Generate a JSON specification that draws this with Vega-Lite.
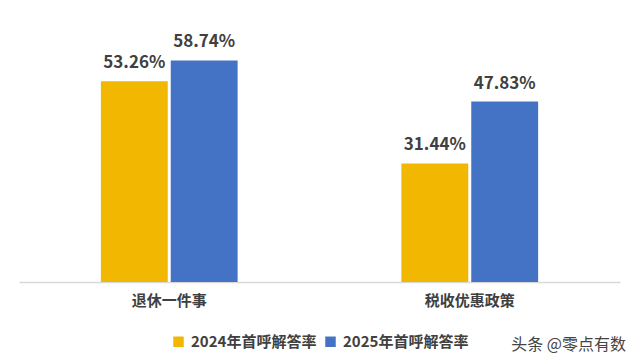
{
  "$schema": "https://vega.github.io/schema/vega-lite/v6.json",
  "width": 601,
  "height": 264,
  "autosize": {"type": "none"},
  "padding": {"left": 19, "top": 18, "right": 20, "bottom": 82},
  "background": "white",
  "config": {
    "font": "Noto Sans CJK SC",
    "view": {"stroke": null}
  },
  "title": {
    "text": "头条 @零点有数",
    "orient": "bottom",
    "anchor": "end",
    "fontSize": 16,
    "fontWeight": "normal",
    "color": "#444444",
    "offset": 0,
    "dy": -13,
    "dx": 6
  },
  "data": {
    "values": [
      {"category": "退休一件事", "series": "2024年首呼解答率", "value": 53.26, "label": "53.26%"},
      {"category": "退休一件事", "series": "2025年首呼解答率", "value": 58.74, "label": "58.74%"},
      {"category": "税收优惠政策", "series": "2024年首呼解答率", "value": 31.44, "label": "31.44%"},
      {"category": "税收优惠政策", "series": "2025年首呼解答率", "value": 47.83, "label": "47.83%"}
    ]
  },
  "encoding": {
    "x": {
      "field": "category",
      "type": "nominal",
      "sort": ["退休一件事", "税收优惠政策"],
      "scale": {"paddingInner": 0.08, "paddingOuter": 0.04},
      "axis": {
        "title": null,
        "labelAngle": 0,
        "labelFontSize": 15,
        "labelFontWeight": "bold",
        "labelColor": "#404040",
        "labelPadding": 11,
        "ticks": false,
        "domainColor": "#d9d9d9",
        "domainWidth": 1.5
      }
    },
    "xOffset": {
      "field": "series",
      "type": "nominal",
      "scale": {"paddingInner": 0.043, "paddingOuter": 1}
    },
    "y": {
      "field": "value",
      "type": "quantitative",
      "scale": {"domain": [0, 70]},
      "axis": null
    }
  },
  "layer": [
    {
      "mark": {"type": "bar"},
      "encoding": {
        "color": {
          "field": "series",
          "type": "nominal",
          "scale": {"range": ["#F2B700", "#4472C4"]},
          "legend": {
            "title": null,
            "orient": "none",
            "direction": "horizontal",
            "legendX": 152,
            "legendY": 316,
            "symbolType": "square",
            "symbolSize": 110,
            "symbolStrokeWidth": 0,
            "labelFontSize": 15,
            "labelFontWeight": "bold",
            "labelColor": "#404040",
            "labelOffset": 5,
            "columnPadding": 6
          }
        }
      }
    },
    {
      "mark": {
        "type": "text",
        "baseline": "alphabetic",
        "dy": -13,
        "fontSize": 17,
        "fontWeight": "bold",
        "color": "#404040"
      },
      "encoding": {
        "text": {"field": "label"}
      }
    }
  ]
}
